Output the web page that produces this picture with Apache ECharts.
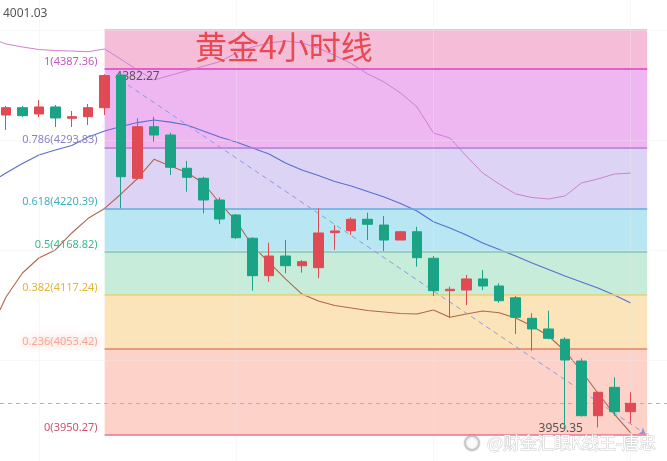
<!DOCTYPE html>
<html><head><meta charset="utf-8">
<script src="https://cdn.jsdelivr.net/npm/echarts@6/dist/echarts.min.js"></script>
<style>html,body{margin:0;padding:0;background:#fff}#c{width:667px;height:461px}</style>
</head><body><div id="c"></div>
<script>
// ---------------- DATA ----------------
// 4h bars: [open, close, low, high]
const ohlc = [
  [4332.4, 4341.1, 4314.5, 4343.2],
  [4341.1, 4331.6, 4330.0, 4343.2],
  [4333.6, 4342.0, 4330.0, 4350.3],
  [4342.0, 4328.8, 4318.1, 4344.3],
  [4328.5, 4330.4, 4318.1, 4337.2],
  [4330.4, 4341.1, 4320.5, 4345.5],
  [4341.1, 4379.5, 4332.4, 4381.0],
  [4380.2, 4258.7, 4221.0, 4382.27],
  [4256.8, 4318.4, 4255.5, 4328.5],
  [4318.4, 4308.5, 4300.5, 4330.4],
  [4308.5, 4270.0, 4260.8, 4311.3],
  [4268.8, 4258.0, 4240.8, 4277.5],
  [4256.8, 4230.9, 4215.0, 4258.7],
  [4230.9, 4208.2, 4202.2, 4234.1],
  [4213.0, 4185.9, 4184.3, 4214.2],
  [4185.2, 4140.5, 4122.6, 4186.4],
  [4140.5, 4164.0, 4133.3, 4179.9],
  [4164.0, 4152.4, 4143.4, 4183.1],
  [4152.4, 4157.2, 4144.1, 4159.2],
  [4150.1, 4191.5, 4137.4, 4221.0],
  [4191.9, 4193.9, 4171.2, 4201.0],
  [4194.2, 4207.9, 4189.1, 4210.2],
  [4207.9, 4201.9, 4183.1, 4215.7],
  [4201.0, 4183.1, 4170.0, 4211.8],
  [4183.1, 4193.0, 4183.1, 4193.9],
  [4193.0, 4162.0, 4151.3, 4199.0],
  [4161.3, 4122.6, 4116.3, 4164.0],
  [4122.6, 4124.3, 4090.3, 4127.4],
  [4123.4, 4136.6, 4105.5, 4141.3],
  [4136.6, 4128.2, 4123.4, 4147.3],
  [4128.2, 4110.6, 4108.3, 4131.4],
  [4114.2, 4090.8, 4070.9, 4116.3],
  [4089.6, 4076.9, 4050.9, 4095.6],
  [4076.9, 4065.7, 4064.6, 4098.7],
  [4064.6, 4039.8, 3960.0, 4066.9],
  [4038.6, 3973.3, 3972.5, 4041.9],
  [3973.3, 4001.3, 3959.35, 4001.6],
  [4007.2, 3978.1, 3973.3, 4019.2],
  [3978.1, 3988.1, 3964.2, 4001.3]
];
const highMark = {bar: 7, price: 4382.27};
const lowMark = {bar: 36, price: 3959.35};
const lastPrice = 3988.1;
const cornerValue = '4001.03';
const titleText = '黄金4小时线';
const watermarkText = '@财金汇眼K线王-唐忠';

// Fibonacci retracement
const fibRatios = ['1', '0.786', '0.618', '0.5', '0.382', '0.236', '0'];
const fibPrices = [4387.36, 4293.83, 4220.39, 4168.82, 4117.24, 4053.42, 3950.27];
const fibTopPrice = 4435.1;
const fibFromBar = 6, fibToBar = 39;

// indicator lines: first point at the left edge, then one per bar
const lineBars = [-0.37, 0, 1, 2, 3, 4, 5, 6, 7, 8, 9, 10, 11, 12, 13, 14, 15, 16, 17, 18, 19,
  20, 21, 22, 23, 24, 25, 26, 27, 28, 29, 30, 31, 32, 33, 34, 35, 36, 37, 38];
const upperBand = [4419.9, 4417.2, 4413.6, 4410.6, 4409.4, 4408.8, 4408.0, 4411.2, 4398.9, 4386.1,
  4374.2, 4379.8, 4385.2, 4390.6, 4396.1, 4406.4, 4413.6, 4418.4, 4420.8, 4418.4,
  4412.4, 4403.5, 4393.9, 4381.4, 4371.8, 4358.7, 4342.0, 4310.9, 4304.9, 4283.4,
  4263.1, 4250.0, 4238.1, 4233.9, 4232.1, 4235.7, 4251.2, 4256.0, 4261.9, 4263.1];
const maBlue = [4258.7, 4263.1, 4274.5, 4284.6, 4290.6, 4296.0, 4306.1, 4313.3, 4318.7, 4323.4,
  4326.4, 4324.0, 4320.5, 4313.3, 4306.1, 4300.2, 4293.0, 4285.8, 4275.1, 4266.7,
  4260.2, 4253.0, 4247.6, 4241.1, 4234.5, 4226.7, 4217.8, 4205.0, 4197.5, 4189.1,
  4179.6, 4171.8, 4164.0, 4155.7, 4147.9, 4140.1, 4133.0, 4125.8, 4117.5, 4107.9];
const maBrown = [4099.5, 4115.1, 4143.7, 4161.6, 4171.2, 4191.5, 4209.0, 4220.8, 4238.1, 4256.6,
  4279.5, 4271.5, 4263.7, 4251.2, 4227.3, 4205.8, 4176.0, 4156.3, 4136.6, 4118.6,
  4110.3, 4104.9, 4101.9, 4098.9, 4097.2, 4095.4, 4094.8, 4099.5, 4090.8, 4094.8,
  4098.3, 4096.3, 4090.0, 4080.4, 4068.5, 4050.6, 4026.7, 4000.4, 3975.3, 3952.7];

// dashed trend line
const trendFrom = [7.42, 4368.2];
const trendTo = [38.9, 3951.5];

// faint grid
const gridBars = [2, 14, 26, 38];
const gridPrices = [4433.9, 4302.5, 4171.2, 4039.8];

// ---------------- STYLE ----------------
const RED = '#e04a55', GREEN = '#1aa384';
const bandColors = ['#f6bdd9', '#efb7f1', '#ddd4f5', '#b9e6f3', '#c7ecda', '#fce4ba', '#fdd2c9'];
const lineColors = ['#e45ec8', '#b377d6', '#62a9e2', '#84c9b3', '#e9cf70', '#e3835f', '#e8748f'];
const labelColors = ['#c455c8', '#8d80c6', '#3fb0c4', '#3fb590', '#e6b535', 'rgba(240,110,80,0.55)', '#d0506a'];
const FONT = '"Noto Sans", "Noto Sans CJK SC", sans-serif';

const chart = echarts.init(document.getElementById('c'), null, {renderer: 'canvas'});

// fib bands
const bandBounds = [fibTopPrice].concat(fibPrices);
const areaData = [];
for (let i = 0; i < fibPrices.length; i++) {
  areaData.push([
    {coord: [fibFromBar, bandBounds[i]], itemStyle: {color: bandColors[i]}},
    {coord: [fibToBar, bandBounds[i + 1]]}
  ]);
}
// fib level lines with labels
const fibLineData = fibPrices.map((p, i) => [
  {
    coord: [fibFromBar, p],
    lineStyle: {color: lineColors[i], width: i === 0 ? 2 : 1.6, type: 'solid'},
    label: {
      show: true, position: 'start', distance: 7, offset: [0, -7],
      formatter: fibRatios[i] + '(' + p.toFixed(2) + ')',
      color: labelColors[i], fontSize: 11, fontFamily: FONT,
      textShadowColor: i === 5 ? 'rgba(240,95,60,0.95)' : 'transparent',
      textShadowBlur: i === 5 ? 7 : 0
    }
  },
  {coord: [fibToBar, p]}
]);

const gridLineData = gridBars.map(b => ({xAxis: b})).concat(gridPrices.map(p => ({yAxis: p})));

const lineSeries = (arr, color, width, z) => ({
  type: 'line',
  data: lineBars.map((x, i) => [x, arr[i]]),
  showSymbol: false, symbol: 'none',
  lineStyle: {color: color, width: width},
  z: z, silent: true
});

const option = {
  animation: false,
  backgroundColor: '#fff',
  grid: {left: 0, right: 0, top: 0, bottom: 0, containLabel: false},
  xAxis: {type: 'value', min: -0.365, max: 40.207, show: false, splitLine: {show: false}},
  yAxis: {type: 'value', min: 3919.22, max: 4469.73, show: false, splitLine: {show: false}},
  graphic: [
    {type: 'text', left: 3, top: 8, z: 20,
      style: {text: cornerValue, fill: '#555', font: '12px ' + FONT}},
    {type: 'text', x: 195, y: 47, z: 20,
      style: {text: titleText, fill: '#e84a52', font: '32px "Noto Sans CJK SC", sans-serif',
        textVerticalAlign: 'middle'}},
    {type: 'circle', shape: {cx: 472, cy: 443, r: 7}, z: 20,
      style: {fill: 'rgba(255,255,255,0.9)', stroke: '#c4c4c4', lineWidth: 1.5,
        shadowColor: 'rgba(0,0,0,0.25)', shadowBlur: 2}},
    {type: 'text', x: 487, y: 443, z: 20,
      style: {text: watermarkText, fill: 'rgba(255,255,255,0.97)',
        font: '17px "Noto Sans CJK SC", sans-serif', textVerticalAlign: 'middle',
        stroke: 'rgba(170,170,170,0.6)', lineWidth: 1,
        shadowColor: 'rgba(0,0,0,0.3)', shadowBlur: 3}}
  ],
  series: [
    {
      type: 'line', data: [], z: 0, silent: true,
      markArea: {silent: true, data: areaData}
    },
    {
      type: 'line', data: [], z: 1, silent: true,
      markLine: {silent: true, symbol: ['none', 'none'], animation: false,
        lineStyle: {color: '#ececec', width: 1, type: 'solid', opacity: 0.35},
        label: {show: false}, data: gridLineData}
    },
    {
      type: 'line', data: [], z: 2, silent: true,
      markLine: {silent: true, symbol: ['none', 'none'], animation: false, data: fibLineData}
    },
    {
      type: 'line', data: [], z: 3, silent: true,
      markLine: {silent: true, symbol: ['none', 'none'], animation: false,
        lineStyle: {color: '#b8b0b0', width: 1, type: [4, 4]},
        label: {show: false}, data: [{yAxis: lastPrice}]}
    },
    lineSeries(upperBand, '#cc82cf', 1, 4),
    lineSeries(maBlue, '#5b6fd3', 1.2, 4),
    lineSeries(maBrown, '#b3654a', 1.1, 4),
    {
      type: 'line', data: [], z: 4, silent: true,
      markPoint: {
        symbol: 'circle', symbolSize: 0, silent: true, animation: false,
        label: {show: true, color: '#555', fontSize: 12, fontFamily: FONT},
        data: [
          {coord: [highMark.bar - 0.35, highMark.price], value: highMark.price,
            label: {position: 'right', distance: 0, offset: [0, 3], formatter: String(highMark.price)}},
          {coord: [lowMark.bar - 0.6, lowMark.price], value: lowMark.price,
            label: {position: 'left', distance: 5, offset: [0, 1], formatter: String(lowMark.price)}}
        ]
      }
    },
    {
      type: 'candlestick',
      data: ohlc.map((d, i) => [i, d[0], d[1], d[2], d[3]]),
      encode: {x: 0, y: [1, 2, 3, 4]},
      barWidth: 10,
      z: 6, silent: true,
      itemStyle: {color: RED, color0: GREEN, borderColor: RED, borderColor0: GREEN, borderWidth: 1}
    },
    {
      type: 'line', data: [], z: 7, silent: true,
      markLine: {silent: true, animation: false, symbol: ['none', 'arrow'], symbolSize: 6,
        lineStyle: {color: '#8d9ae3', width: 1, type: [5, 4]},
        label: {show: false},
        data: [[{coord: trendFrom}, {coord: trendTo}]]}
    }
  ]
};
chart.setOption(option);
</script>
</body></html>
